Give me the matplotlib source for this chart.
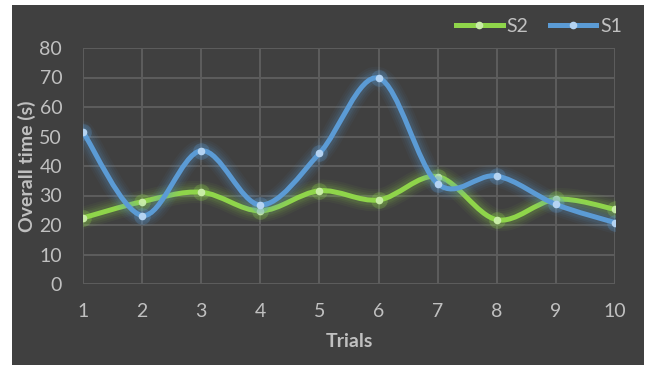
import numpy as np
import matplotlib
matplotlib.use("Agg")
import matplotlib.pyplot as plt
from matplotlib.path import Path
from matplotlib.patches import PathPatch, Rectangle
from matplotlib.lines import Line2D

# ---------------------------------------------------------------------------
# Data
# ---------------------------------------------------------------------------
trials = [1, 2, 3, 4, 5, 6, 7, 8, 9, 10]
s1 = [51.5, 23.2, 45.2, 26.8, 44.3, 69.8, 34.0, 36.6, 27.0, 20.8]
s2 = [22.4, 27.9, 31.1, 24.8, 31.6, 28.5, 36.4, 21.8, 28.7, 25.3]

BG      = "#404040"
GRID    = "#5d5d5d"
TXT     = "#c0c0c0"
BLUE    = "#5b9bd5"
BLUE_M  = "#b4d3f2"
GREEN   = "#8fd54a"
GREEN_M = "#c8eca6"
FS      = 14

plt.rcParams["font.family"] = ["Lato", "DejaVu Sans"]


def smooth_path(x, y):
    """Cubic Bezier path through the points (Excel-style smoothed line)."""
    pts = np.column_stack([x, y]).astype(float)
    n = len(pts)
    verts = [pts[0]]
    codes = [Path.MOVETO]
    for i in range(n - 1):
        p0 = pts[i - 1] if i > 0 else pts[i]
        p1 = pts[i]
        p2 = pts[i + 1]
        p3 = pts[i + 2] if i + 2 < n else pts[i + 1]
        c1 = p1 + (p2 - p0) / 6.0
        c2 = p2 - (p3 - p1) / 6.0
        verts += [c1, c2, p2]
        codes += [Path.CURVE4] * 3
    return Path(verts, codes)


def draw_series(ax, x, y, color, mcolor, z):
    path = smooth_path(x, y)
    # soft glow
    for lw, a in [(16, 0.05), (13, 0.06), (10, 0.08), (7.5, 0.10)]:
        ax.add_patch(PathPatch(path, fill=False, edgecolor=color, lw=lw,
                               alpha=a, capstyle="round", joinstyle="round",
                               zorder=z))
    ax.add_patch(PathPatch(path, fill=False, edgecolor=color, lw=3.6,
                           capstyle="round", joinstyle="round", zorder=z + 1))
    ax.plot(x, y, "o", ls="none", ms=12, color=color, alpha=0.25,
            mec="none", zorder=z + 1)
    ax.plot(x, y, "o", ls="none", ms=5.5, color=mcolor, mec="none",
            zorder=z + 2)


fig = plt.figure(figsize=(6.47, 3.65), dpi=100, facecolor="white")
fig.patches.append(Rectangle((12 / 647, 0), 632 / 647, 360 / 365,
                             transform=fig.transFigure, facecolor=BG,
                             edgecolor="none", zorder=-10))

ax = fig.add_axes([83 / 647, 81 / 365, 532 / 647, 236 / 365])
ax.set_facecolor("none")
ax.set_xlim(1, 10)
ax.set_ylim(0, 80)
ax.set_xticks(trials)
ax.set_yticks(range(0, 81, 10))
ax.grid(True, color=GRID, lw=1.4)
ax.set_axisbelow(True)
for sp in ax.spines.values():
    sp.set_visible(False)
ax.tick_params(length=0, colors=TXT, labelsize=FS)
ax.tick_params(axis="x", pad=14)
ax.tick_params(axis="y", pad=15)

draw_series(ax, trials, s2, GREEN, GREEN_M, 3)
draw_series(ax, trials, s1, BLUE, BLUE_M, 6)

ax.set_xlabel("Trials", color=TXT, fontsize=FS, fontweight="bold",
              labelpad=9)
ax.set_ylabel("Overall time (s)", color=TXT, fontsize=FS,
              fontweight="bold")
ax.yaxis.set_label_coords(-0.088, 0.5)

handles = [
    Line2D([], [], color=GREEN, lw=3.6, marker="o", ms=5.5,
           mfc=GREEN_M, mec="none"),
    Line2D([], [], color=BLUE, lw=3.6, marker="o", ms=5.5,
           mfc=BLUE_M, mec="none"),
]
leg = fig.legend(handles, ["S2", "S1"], ncol=2, loc="center right",
                 bbox_to_anchor=(630 / 647, 1 - 26 / 365), frameon=False,
                 fontsize=FS, handlelength=2.4, handletextpad=0.2,
                 columnspacing=1.1, borderaxespad=0)
for t in leg.get_texts():
    t.set_color(TXT)

fig.savefig("out.png", dpi=100, facecolor="white")
